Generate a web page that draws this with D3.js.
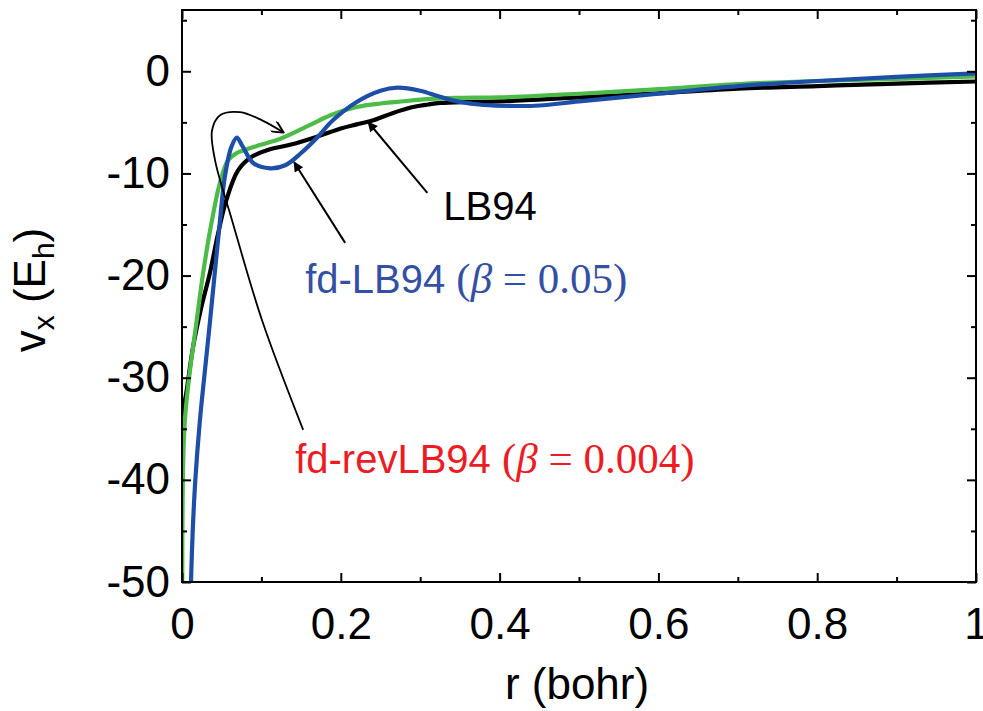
<!DOCTYPE html>
<html><head><meta charset="utf-8">
<script src="https://cdn.jsdelivr.net/npm/d3@7/dist/d3.min.js"></script>
<style>
html,body{margin:0;padding:0;background:#fff;}
svg{display:block;}
</style></head>
<body>
<svg id="chart" width="983" height="711"></svg>
<script>
// ---- data ----
const lb94R = [0, 0.0008, 0.0054, 0.0139, 0.0243, 0.035, 0.0454, 0.0559, 0.0706, 0.0874, 0.108, 0.136, 0.17, 0.2, 0.22, 0.241, 0.265, 0.291, 0.31, 0.325, 0.36, 0.4, 0.5, 0.6, 0.7, 0.8, 0.9, 1.0];
const lb94V = [-37, -33.5, -31.5, -27.0, -23.1, -19.8, -15.9, -12.6, -9.7, -8.4, -7.7, -7.2, -6.4, -5.6, -5.2, -4.8, -4.1, -3.5, -3.25, -3.1, -3.0, -2.95, -2.55, -2.15, -1.7, -1.45, -1.2, -1.0];

const fdR = [0.0113, 0.0135, 0.0168, 0.0223, 0.0286, 0.035, 0.0412, 0.0475, 0.0538, 0.0622, 0.069, 0.076, 0.09, 0.111, 0.13, 0.15, 0.17, 0.19, 0.22, 0.25, 0.271, 0.30, 0.325, 0.35, 0.38, 0.42, 0.45, 0.5, 0.6, 0.7, 0.8, 0.9, 1.0];
const fdV = [-50, -45, -40, -34.4, -29.5, -24.7, -19.8, -14.9, -10.4, -7.4, -6.5, -7.3, -9.0, -9.5, -9.2, -8.0, -6.5, -4.8, -3.0, -1.9, -1.6, -1.9, -2.5, -3.0, -3.3, -3.4, -3.35, -2.95, -2.2, -1.45, -0.95, -0.55, -0.2];

const revR = [0.0003, 0.0013, 0.0034, 0.0097, 0.018, 0.0265, 0.037, 0.0475, 0.058, 0.069, 0.079, 0.095, 0.108, 0.124, 0.16, 0.187, 0.22, 0.25, 0.271, 0.313, 0.35, 0.4, 0.5, 0.6, 0.7, 0.8, 0.9, 1.0];
const revV = [-50, -39, -34.4, -29.5, -24.7, -19.8, -14.9, -11.0, -8.7, -8.0, -7.7, -7.3, -7.0, -6.6, -5.3, -4.3, -3.5, -3.15, -3.0, -2.7, -2.6, -2.55, -2.2, -1.75, -1.25, -0.95, -0.75, -0.5];

const xTicks = [0, 0.2, 0.4, 0.6, 0.8, 1];
const xTickLabels = ["0", "0.2", "0.4", "0.6", "0.8", "1"];
const yTicks = [0, -10, -20, -30, -40, -50];
const yTickLabels = ["0", "-10", "-20", "-30", "-40", "-50"];
const xMinor = [0.1, 0.3, 0.5, 0.7, 0.9];
const yMinor = [5, -5, -15, -25, -35, -45];

// annotation anchors in data units
const lbArrow = [[0.309, -11.9], [0.2346, -4.99]];
const fdArrow = [[0.2055, -16.8], [0.1412, -8.9]];
const revArrow = [[0.1526, -35.1], [0.1009, -24.4], [0.0631, -14.6], [0.0416, -8.7], [0.0378, -5.8], [0.0479, -4.3], [0.0731, -4.0], [0.1009, -4.8], [0.1274, -5.97]];
const lbLabelPos = [0.3291, -14.6];
const fdLabelPos = [0.1551, -21.7];
const revLabelPos = [0.1425, -39.3];

// ---- layout ----
const svg = d3.select("#chart");
const L = 182, R = 976, T = 10, B = 582;
const x = d3.scaleLinear().domain([0, 1]).range([L, R]);
const y = d3.scaleLinear().domain([-50, 6]).range([B, T]);

const defs = svg.append("defs");
defs.append("clipPath").attr("id", "clip").append("rect")
  .attr("x", L).attr("y", T).attr("width", R - L).attr("height", B - T);
defs.append("marker").attr("id", "headFill").attr("viewBox", "0 0 10 10")
  .attr("refX", 9).attr("refY", 5).attr("markerWidth", 13).attr("markerHeight", 10)
  .attr("markerUnits", "userSpaceOnUse").attr("orient", "auto")
  .append("path").attr("d", "M0,0 L10,5 L0,10 Z").attr("fill", "#000");
defs.append("marker").attr("id", "headOpen").attr("viewBox", "0 0 10 10")
  .attr("refX", 9.5).attr("refY", 5).attr("markerWidth", 14).attr("markerHeight", 12)
  .attr("markerUnits", "userSpaceOnUse").attr("orient", "auto")
  .append("path").attr("d", "M0,0 L10,5 L0,10").attr("fill", "none").attr("stroke", "#000").attr("stroke-width", 1.6);

const font = "'Liberation Sans', Arial, Helvetica, sans-serif";
const serif = "'Liberation Serif', 'Times New Roman', serif";

// curves
const line = d3.line().x(d => x(d[0])).y(d => y(d[1])).curve(d3.curveCatmullRom.alpha(0.5));
const g = svg.append("g").attr("clip-path", "url(#clip)");
const series = [
  {r: lb94R, v: lb94V, color: "#000000"},
  {r: revR, v: revV, color: "#4CBB47"},
  {r: fdR, v: fdV, color: "#1E4FA8"}
];
series.forEach(s => {
  g.append("path").datum(s.r.map((r, i) => [r, s.v[i]]))
    .attr("d", line).attr("fill", "none").attr("stroke", s.color)
    .attr("stroke-width", 4.2).attr("stroke-linejoin", "round");
});

// axes (ticks inward on all four sides)
function styleAxis(sel) {
  sel.select(".domain").remove();
  sel.selectAll(".tick line").attr("stroke", "#000").attr("stroke-width", 2);
  sel.selectAll("text").attr("font-family", font).attr("font-size", 44).attr("fill", "#000");
}
svg.append("g").attr("transform", `translate(0,${B})`)
  .call(d3.axisBottom(x).tickValues(xTicks).tickFormat((d, i) => xTickLabels[i]).tickSizeInner(-9).tickSizeOuter(0).tickPadding(26))
  .call(styleAxis);
svg.append("g").attr("transform", `translate(0,${B})`)
  .call(d3.axisBottom(x).tickValues(xMinor).tickFormat("").tickSizeInner(-5).tickSizeOuter(0))
  .call(styleAxis);
svg.append("g").attr("transform", `translate(0,${T})`)
  .call(d3.axisTop(x).tickValues(xTicks).tickFormat("").tickSizeInner(-9).tickSizeOuter(0))
  .call(styleAxis);
svg.append("g").attr("transform", `translate(0,${T})`)
  .call(d3.axisTop(x).tickValues(xMinor).tickFormat("").tickSizeInner(-5).tickSizeOuter(0))
  .call(styleAxis);
svg.append("g").attr("transform", `translate(${L},0)`)
  .call(d3.axisLeft(y).tickValues(yTicks).tickFormat((d, i) => yTickLabels[i]).tickSizeInner(-9).tickSizeOuter(0).tickPadding(12))
  .call(styleAxis);
svg.append("g").attr("transform", `translate(${L},0)`)
  .call(d3.axisLeft(y).tickValues(yMinor).tickFormat("").tickSizeInner(-5).tickSizeOuter(0))
  .call(styleAxis);
svg.append("g").attr("transform", `translate(${R},0)`)
  .call(d3.axisRight(y).tickValues(yTicks).tickFormat("").tickSizeInner(-9).tickSizeOuter(0))
  .call(styleAxis);
svg.append("g").attr("transform", `translate(${R},0)`)
  .call(d3.axisRight(y).tickValues(yMinor).tickFormat("").tickSizeInner(-5).tickSizeOuter(0))
  .call(styleAxis);

svg.append("rect").attr("x", L).attr("y", T).attr("width", R - L).attr("height", B - T)
  .attr("fill", "none").attr("stroke", "#000").attr("stroke-width", 2);

// axis titles
svg.append("text").attr("x", (L + R) / 2 - 2).attr("y", 699).attr("text-anchor", "middle")
  .attr("font-family", font).attr("font-size", 44).text("r (bohr)");
const yt = svg.append("text").attr("transform", "translate(45,290) rotate(-90)")
  .attr("text-anchor", "middle").attr("font-family", font).attr("font-size", 44);
yt.append("tspan").text("v");
yt.append("tspan").attr("font-size", 30).attr("dy", 9).text("x");
yt.append("tspan").attr("dy", -9).text(" (E");
yt.append("tspan").attr("font-size", 30).attr("dy", 9).text("h");
yt.append("tspan").attr("dy", -9).text(")");

// annotation arrows
const straight = d3.line().x(d => x(d[0])).y(d => y(d[1]));
svg.append("path").attr("d", straight(lbArrow)).attr("stroke", "#000").attr("stroke-width", 2).attr("fill", "none").attr("marker-end", "url(#headFill)");
svg.append("path").attr("d", straight(fdArrow)).attr("stroke", "#000").attr("stroke-width", 2).attr("fill", "none").attr("marker-end", "url(#headFill)");
const curved = d3.line().x(d => x(d[0])).y(d => y(d[1])).curve(d3.curveCatmullRom.alpha(0.5));
svg.append("path").attr("d", curved(revArrow)).attr("stroke", "#000").attr("stroke-width", 1.8).attr("fill", "none").attr("marker-end", "url(#headOpen)");

// annotation labels
svg.append("text").attr("x", x(lbLabelPos[0])).attr("y", y(lbLabelPos[1]))
  .attr("font-family", font).attr("font-size", 40).attr("fill", "#000").text("LB94");

function mixedLabel(pos, color, name, betaVal) {
  const t = svg.append("text").attr("x", x(pos[0])).attr("y", y(pos[1])).attr("fill", color);
  t.append("tspan").attr("font-family", font).attr("font-size", 40).text(name + " ");
  t.append("tspan").attr("font-family", serif).attr("font-size", 43).text("(");
  t.append("tspan").attr("font-family", serif).attr("font-size", 43).attr("font-style", "italic").text("β");
  t.append("tspan").attr("font-family", serif).attr("font-size", 43).text(" = " + betaVal + ")");
}
mixedLabel(fdLabelPos, "#3450A4", "fd-LB94", "0.05");
mixedLabel(revLabelPos, "#EC1C24", "fd-revLB94", "0.004");
</script>
</body></html>
